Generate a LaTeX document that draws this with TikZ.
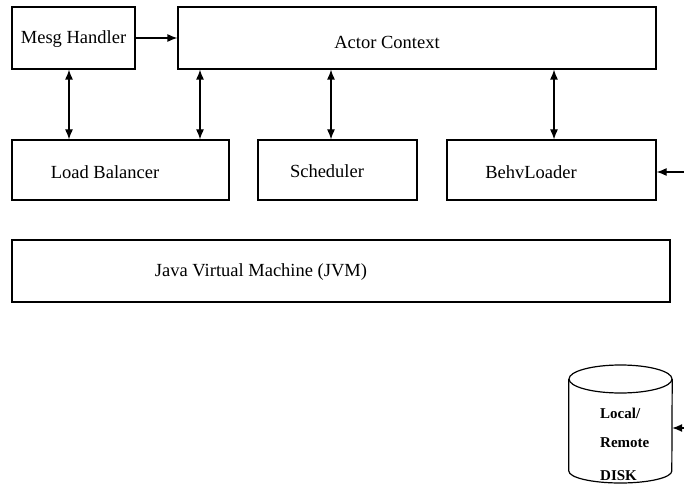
\documentclass[tikz,border=0pt]{standalone}
\usepackage{fontspec}
\setmainfont{Liberation Serif}
\usetikzlibrary{arrows.meta}
\begin{document}
\begin{tikzpicture}[x=1pt,y=-1pt,
  box/.style={draw, line width=1.2pt, inner sep=0pt},
  lbl/.style={font=\fontsize{18.5}{20}\selectfont, inner sep=0pt},
  dlbl/.style={font=\fontsize{15}{17}\selectfont\bfseries, inner sep=0pt, anchor=west},
  arr/.style={-{Latex[length=10pt,width=8pt]}, line width=1.2pt},
  darr/.style={{Latex[length=10pt,width=8pt]}-{Latex[length=10pt,width=8pt]}, line width=1.2pt}]
\useasboundingbox (0,0) rectangle (684,486);
% boxes
\node[box, minimum width=123pt, minimum height=62pt] (mh) at (73.5,38) {};
\node[box, minimum width=478pt, minimum height=62pt] (ac) at (417,38) {};
\node[box, minimum width=217pt, minimum height=60pt] (lb) at (120.5,170) {};
\node[box, minimum width=159pt, minimum height=60pt] (sc) at (337.5,170) {};
\node[box, minimum width=209pt, minimum height=60pt] (bl) at (551.5,170) {};
\node[box, minimum width=658pt, minimum height=62pt] (jvm) at (341,271) {};
% labels
\node[lbl] (mht) at (73.5,39) {Mesg Handler};
\node[lbl] (act) at (387,42) {Actor Context};
\node[lbl] (lbt) at (105,172) {Load Balancer};
\node[lbl] (sct) at (327,171) {Scheduler};
\node[lbl] (blt) at (531,172) {BehvLoader};
\node[lbl] (jvmt) at (261,272) {Java Virtual Machine (JVM)};
% connectors
\draw[arr] (mh.east) -- (ac.west);
\draw[darr] (mh.south -| 69,0) -- (lb.north -| 69,0);
\draw[darr] (ac.south -| 200,0) -- (lb.north -| 200,0);
\draw[darr] (ac.south -| 331,0) -- (sc.north -| 331,0);
\draw[darr] (ac.south -| 554,0) -- (bl.north -| 554,0);
\coordinate (in1) at (684,172);
\draw[arr] (in1) -- (bl.east |- in1);
% disk
\node[minimum width=103pt, minimum height=118pt, inner sep=0pt] (disk) at (620.5,424) {};
\draw[line width=1.2pt] (disk.west |- 0,379) -- (disk.west |- 0,471)
   arc[start angle=180, end angle=0, x radius=51.5, y radius=12] -- (disk.east |- 0,379);
\draw[line width=1.2pt] (620.5,379) ellipse [x radius=51.5, y radius=14];
\node[dlbl] (d1) at (600,413) {Local/};
\node[dlbl] (d2) at (600,443) {Remote};
\node[dlbl] (d3) at (600,476) {DISK};
\coordinate (in2) at (684,428);
\draw[arr] (in2) -- (disk.east |- in2);
\end{tikzpicture}
\end{document}
